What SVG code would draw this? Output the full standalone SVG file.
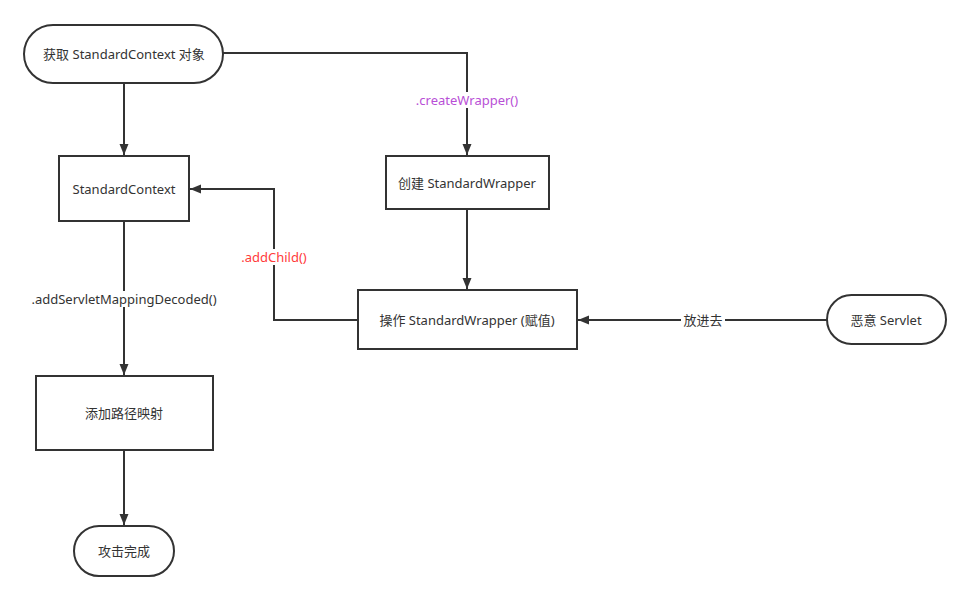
<svg xmlns="http://www.w3.org/2000/svg" width="971" height="601" viewBox="0 0 971 601">
<defs>
<marker id="ah" markerUnits="userSpaceOnUse" markerWidth="12" markerHeight="10" refX="11" refY="5" orient="auto">
<path d="M0,0.5 L11,5 L0,9.5 Z" fill="#333"/>
</marker>
<style>
.n{fill:#fff;stroke:#333;stroke-width:2}
.c{fill:none;stroke:#333;stroke-width:2;marker-end:url(#ah)}
.t{font-family:"Noto Sans","Noto Sans CJK SC",sans-serif;font-size:13px;fill:#333;text-anchor:middle;dominant-baseline:central}
.bg{fill:#fff}
</style>
</defs>
<rect width="971" height="601" fill="#fff"/>
<g id="connectors">
<path class="c" d="M124,83 V155"/>
<path class="c" d="M223,53 H467 V155"/>
<path class="c" d="M467,209 V289"/>
<path class="c" d="M358,320 H274 V189 H190"/>
<path class="c" d="M124,221 V375"/>
<path class="c" d="M124,450 V525"/>
<path class="c" d="M827,320 H578"/>
<rect class="bg" x="412" y="92" width="110" height="16"/>
<text class="t" x="467" y="100" style="fill:#b84fd6">.createWrapper()</text>
<rect class="bg" x="236" y="249" width="76" height="16"/>
<text class="t" x="274" y="257" style="fill:#ff3b3b">.addChild()</text>
<rect class="bg" x="26" y="291" width="196" height="16"/>
<text class="t" x="124" y="299">.addServletMappingDecoded()</text>
<rect class="bg" x="681" y="312" width="44" height="16"/>
<text class="t" x="703" y="320">放进去</text>
</g>
<g id="n-get">
<rect class="n" x="24" y="25" width="199" height="58" rx="29"/>
<text class="t" x="124" y="54">获取 StandardContext 对象</text>
</g>
<g id="n-ctx">
<rect class="n" x="59" y="156" width="130" height="65"/>
<text class="t" x="124" y="189">StandardContext</text>
</g>
<g id="n-create">
<rect class="n" x="386" y="156" width="163" height="53"/>
<text class="t" x="467" y="183">创建 StandardWrapper</text>
</g>
<g id="n-op">
<rect class="n" x="358" y="290" width="219" height="59"/>
<text class="t" x="467" y="320">操作 StandardWrapper (赋值)</text>
</g>
<g id="n-servlet">
<rect class="n" x="827" y="295" width="119" height="49" rx="24.5"/>
<text class="t" x="886" y="320">恶意 Servlet</text>
</g>
<g id="n-map">
<rect class="n" x="36" y="376" width="177" height="74"/>
<text class="t" x="124" y="413">添加路径映射</text>
</g>
<g id="n-done">
<rect class="n" x="74" y="526" width="100" height="50" rx="25"/>
<text class="t" x="124" y="551">攻击完成</text>
</g>
</svg>
